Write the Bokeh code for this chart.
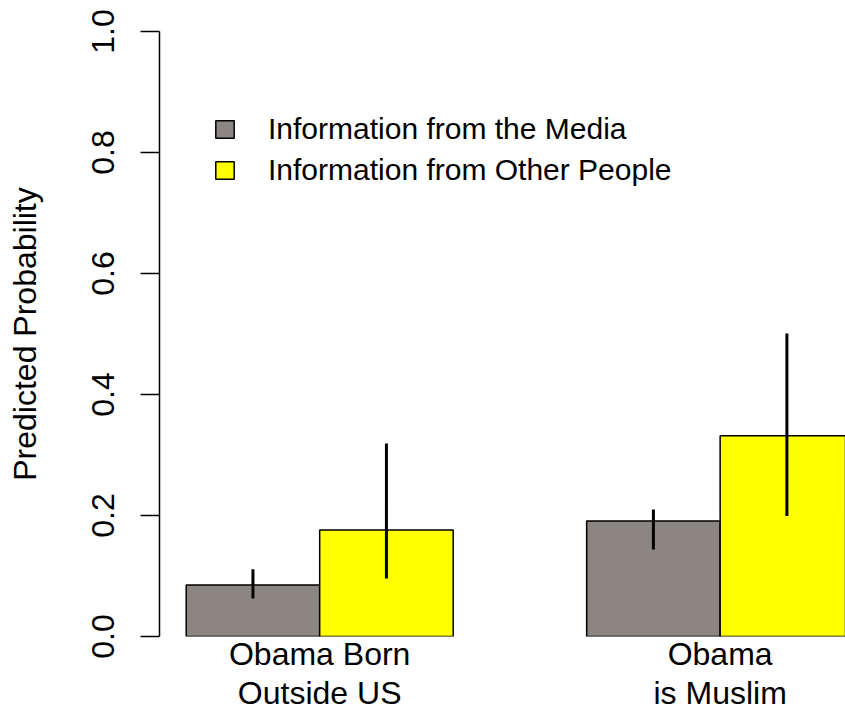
from bokeh.plotting import figure
from bokeh.models import (Range1d, FixedTicker, PrintfTickFormatter, Legend, LegendItem,
                          ColumnDataSource, LinearAxis)
from bokeh.embed import file_html
from bokeh.resources import INLINE

# ---- data ----
categories = ["Obama Born\nOutside US", "Obama\nis Muslim"]
series_names = ["Information from the Media", "Information from Other People"]
media = [0.085, 0.191]
media_lo = [0.063, 0.144]
media_hi = [0.111, 0.210]
other = [0.176, 0.332]
other_lo = [0.096, 0.199]
other_hi = [0.319, 0.501]
y_ticks = [0.0, 0.2, 0.4, 0.6, 0.8, 1.0]

FONT = "Liberation Sans"
GRAY = "#8B8682"
YELLOW = "#FFFF00"

# R barplot(beside=TRUE) positions: groups of width 2, one unit gap
group_centers = [2 + 3 * i for i in range(len(categories))]
media_x = [c - 0.5 for c in group_centers]
other_x = [c + 0.5 for c in group_centers]

p = figure(width=845, height=713, output_backend="svg", toolbar_location=None,
           x_range=Range1d(0.8, 5.939), y_range=Range1d(0, 1),
           min_border_left=159, min_border_right=0, min_border_top=31, min_border_bottom=76)
p.outline_line_color = None
p.grid.visible = False
p.background_fill_color = "white"
p.border_fill_color = "white"

src_m = ColumnDataSource(dict(x=media_x, top=media, lo=media_lo, hi=media_hi))
src_o = ColumnDataSource(dict(x=other_x, top=other, lo=other_lo, hi=other_hi))

r_m = p.vbar(x="x", top="top", bottom=0, width=1.0, source=src_m,
             fill_color=GRAY, line_color="black", line_width=1.5)
r_o = p.vbar(x="x", top="top", bottom=0, width=1.0, source=src_o,
             fill_color=YELLOW, line_color="black", line_width=1.5)
p.segment(x0="x", y0="lo", x1="x", y1="hi", source=src_m, line_color="black", line_width=3)
p.segment(x0="x", y0="lo", x1="x", y1="hi", source=src_o, line_color="black", line_width=3)

# y axis
ya = p.yaxis[0]
ya.ticker = FixedTicker(ticks=y_ticks)
ya.formatter = PrintfTickFormatter(format="%.1f")
ya.bounds = (0, 1)
ya.minor_tick_line_color = None
ya.major_tick_in = 0
ya.major_tick_out = 19
ya.major_tick_line_width = 1.5
ya.axis_line_width = 1.5
ya.major_label_orientation = "vertical"
ya.major_label_text_font = FONT
ya.major_label_text_font_size = "32px"
ya.major_label_text_color = "black"
ya.major_label_standoff = 27
ya.axis_label = "Predicted Probability"
ya.axis_label_text_font = FONT
ya.axis_label_text_font_size = "32px"
ya.axis_label_text_font_style = "normal"
ya.axis_label_text_color = "black"
ya.axis_label_standoff = 46


# x axis: category names under each group, one axis per text line
def style_x(ax, line_idx, standoff):
    ax.ticker = FixedTicker(ticks=group_centers)
    ax.major_label_overrides = {c: lab.split("\n")[line_idx] for c, lab in zip(group_centers, categories)}
    ax.axis_line_color = None
    ax.major_tick_line_color = None
    ax.minor_tick_line_color = None
    ax.major_tick_in = 0
    ax.major_tick_out = 0
    ax.major_label_standoff = standoff
    ax.major_label_text_font = FONT
    ax.major_label_text_font_size = "32px"
    ax.major_label_text_color = "black"


style_x(p.xaxis[0], 0, -1)
xa2 = LinearAxis()
style_x(xa2, 1, 0)
p.add_layout(xa2, "below")

legend = Legend(items=[LegendItem(label=series_names[0], renderers=[r_m]),
                       LegendItem(label=series_names[1], renderers=[r_o])],
                location=(54, 449), orientation="vertical",
                glyph_width=23, glyph_height=22, label_standoff=32, spacing=7,
                padding=0, margin=0, border_line_color=None, background_fill_alpha=0,
                label_text_font=FONT, label_text_font_size="30px", label_text_color="black",
                label_height=22)
p.add_layout(legend)

open("out.html", "w").write(file_html(p, INLINE))
